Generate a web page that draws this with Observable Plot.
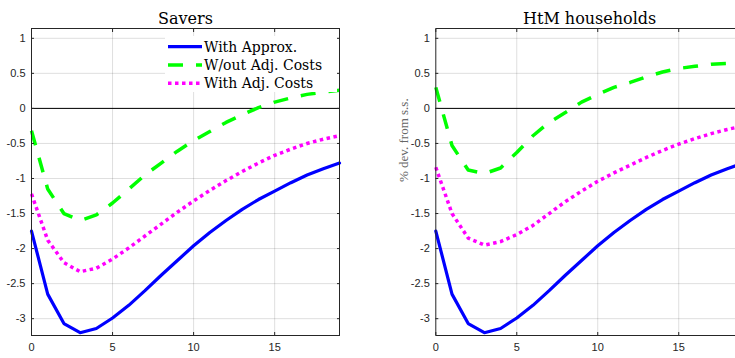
<!DOCTYPE html>
<html><head><meta charset="utf-8">
<script src="https://cdn.jsdelivr.net/npm/d3@7"></script>
<script src="https://cdn.jsdelivr.net/npm/@observablehq/plot@0.6"></script>
<style>
html,body{margin:0;padding:0;background:#fff;overflow:hidden;}
#page{position:relative;width:735px;height:358px;overflow:hidden;background:#fff;}
#left{position:absolute;left:0;top:0;}
#right{position:absolute;left:365px;top:0;width:370px;height:358px;overflow:hidden;}
#page svg{max-width:none !important;}
#legend{position:absolute;left:165px;top:36px;}
</style></head>
<body><div id="page"><div id="left"></div><div id="right"></div><div id="legend"></div></div>
<script>
// ---------- data ----------
const periods = [0,1,2,3,4,5,6,7,8,9,10,11,12,13,14,15,16,17,18,19];
const seriesNames = ["With Approx.", "W/out Adj. Costs", "With Adj. Costs"];
const panelTitles = ["Savers", "HtM households"];
const yLabel = "% dev. from s.s.";
const xTicks = [0, 5, 10, 15];
const yTicks = [1, 0.5, 0, -0.5, -1, -1.5, -2, -2.5, -3];

const saversApprox = [-1.75,-2.65,-3.07,-3.2,-3.14,-2.99,-2.81,-2.6,-2.38,-2.17,-1.96,-1.77,-1.6,-1.44,-1.3,-1.18,-1.06,-0.95,-0.86,-0.78];
const saversNoAdj  = [-0.32,-1.15,-1.5,-1.6,-1.52,-1.35,-1.15,-0.95,-0.78,-0.61,-0.46,-0.33,-0.2,-0.09,0.01,0.09,0.15,0.2,0.23,0.26];
const saversAdj    = [-1.22,-1.88,-2.2,-2.33,-2.28,-2.15,-1.99,-1.82,-1.65,-1.48,-1.32,-1.17,-1.03,-0.9,-0.78,-0.67,-0.58,-0.5,-0.44,-0.39];

const htmApprox = [-1.75,-2.65,-3.07,-3.2,-3.14,-2.99,-2.81,-2.6,-2.38,-2.17,-1.96,-1.77,-1.6,-1.44,-1.3,-1.18,-1.06,-0.95,-0.86,-0.78];
const htmNoAdj  = [0.3,-0.53,-0.88,-0.93,-0.85,-0.63,-0.39,-0.2,-0.06,0.09,0.2,0.3,0.37,0.45,0.52,0.57,0.6,0.63,0.64,0.65];
const htmAdj    = [-0.84,-1.5,-1.85,-1.95,-1.9,-1.8,-1.67,-1.5,-1.33,-1.18,-1.04,-0.92,-0.81,-0.7,-0.6,-0.51,-0.43,-0.36,-0.3,-0.25];

// ---------- styles ----------
const lineStyles = [
  {stroke:"#0000ff", strokeWidth:3.2, strokeDasharray:null, strokeLinecap:"round"},
  {stroke:"#00ff00", strokeWidth:3.5, strokeDasharray:"15,13", strokeLinecap:"butt"},
  {stroke:"#ff00ff", strokeWidth:3.5, strokeDasharray:"3.5,3.5", strokeLinecap:"butt"}
];
const axisColor = "#262626";

function panel({series, title, width, marginLeft, marginRight, withYLabel}) {
  const marks = [
    Plot.gridX(xTicks.filter(d => d > 0), {stroke:"#000", strokeOpacity:0.13}),
    Plot.gridY(yTicks, {stroke:"#000", strokeOpacity:0.13}),
    Plot.ruleY([0], {stroke:"#000", strokeWidth:1}),
    ...series.map((vals, k) => Plot.line(
      periods.map((p, i) => ({x:p, y:vals[i]})),
      {x:"x", y:"y", ...lineStyles[k], strokeLinejoin:"round"})),
    Plot.frame({stroke:axisColor}),
    Plot.axisX(xTicks, {tickSize:-3, tickPadding:11, tickFormat:d => String(d), fontSize:11, fill:axisColor, stroke:axisColor, label:null}),
    Plot.axisX(xTicks, {anchor:"top", tickSize:-3, fill:"none", stroke:axisColor, label:null}),
    Plot.axisY(yTicks, {tickSize:-3, tickPadding:9, tickFormat:d => String(d), fontSize:11, fill:axisColor, stroke:axisColor, label:null}),
    Plot.axisY(yTicks, {anchor:"right", tickSize:-3, fill:"none", stroke:axisColor, label:null}),
    Plot.text([title], {frameAnchor:"top", dy:-5, lineAnchor:"bottom", fontSize:16, fontFamily:"DejaVu Serif", fill:"#000"})
  ];
  if (withYLabel) {
    marks.push(Plot.text([yLabel], {frameAnchor:"left", rotate:-90, dx:-32, fontSize:13, fontFamily:"Liberation Serif", fill:"#666"}));
  }
  return Plot.plot({
    width, height:358, marginTop:28, marginBottom:23, marginLeft, marginRight,
    style:{fontFamily:"Liberation Sans, Arial, sans-serif", fontSize:"11px", background:"transparent", maxWidth:"none"},
    x:{domain:[0,19]}, y:{domain:[-3.24,1.14]},
    marks
  });
}

document.getElementById("left").append(panel({
  series:[saversApprox, saversNoAdj, saversAdj], title:panelTitles[0],
  width:360, marginLeft:31, marginRight:21, withYLabel:false
}));
document.getElementById("right").append(panel({
  series:[htmApprox, htmNoAdj, htmAdj], title:panelTitles[1],
  width:388, marginLeft:70.3, marginRight:10, withYLabel:true
}));

// ---------- legend ----------
const lg = d3.create("svg").attr("width", 172).attr("height", 56);
lg.append("rect").attr("width", 172).attr("height", 56).attr("fill", "#fff");
seriesNames.forEach((name, k) => {
  const cy = 10.7 + k * 18.3;
  const s = lineStyles[k];
  lg.append("line").attr("x1", 3).attr("x2", 37).attr("y1", cy).attr("y2", cy)
    .attr("stroke", s.stroke).attr("stroke-width", s.strokeWidth)
    .attr("stroke-dasharray", s.strokeDasharray).attr("stroke-linecap", "butt");
  lg.append("text").attr("x", 39).attr("y", cy).attr("dy", "0.35em")
    .attr("font-family", "DejaVu Serif").attr("font-size", 14).attr("fill", "#000").text(name);
});
document.getElementById("legend").append(lg.node());
</script>
</body></html>
